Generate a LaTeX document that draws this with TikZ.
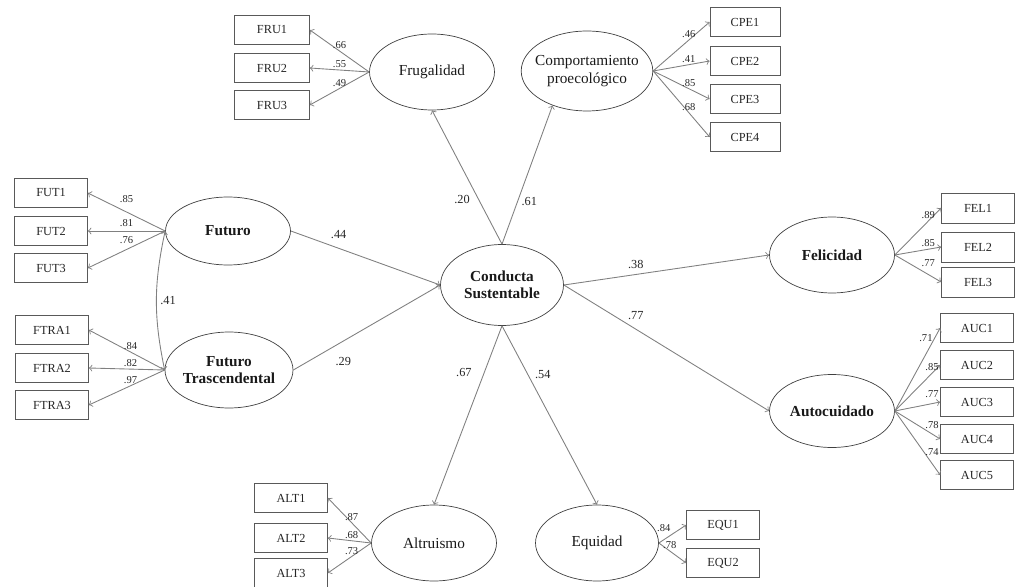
\documentclass[tikz,border=0pt]{standalone}
\usepackage{fontspec}
\setmainfont{Liberation Serif}
\usetikzlibrary{shapes.geometric, arrows}

\tikzset{
  obs/.style={draw=black!65, rectangle, minimum width=1.46cm, minimum height=0.58cm,
    inner sep=1pt, text=black!85, font=\fontsize{7}{8}\selectfont},
  lat/.style={draw=black!75, ellipse, minimum width=2.5cm, minimum height=1.52cm,
    inner sep=0pt, inner xsep=-3pt, align=center, text=black!90, font=\fontsize{8.7}{10}\selectfont},
  latb/.style={lat, font=\fontsize{8.7}{10}\selectfont\bfseries},
  ld/.style={font=\fontsize{6}{7}\selectfont, inner sep=1pt, text=black!85},
  cf/.style={font=\fontsize{7}{8}\selectfont, inner sep=1pt, text=black!85}
}

\begin{document}
\begin{tikzpicture}[x=0.02cm,y=-0.02cm,>=to,
    every edge/.style={draw=black!50, line width=0.5pt}]
  \useasboundingbox (0,0) rectangle (1016,587);

  \node[lat] (fru) at (432,72) {Frugalidad};
  \node[lat, minimum height=1.6cm] (cpe) at (587,71) {Comportamiento\\proecológico};
  \node[latb, minimum height=1.36cm] (fut) at (228,231) {Futuro};
  \node[latb, minimum width=2.56cm] (ftra) at (229,370) {Futuro\\Trascendental};
  \node[latb, minimum width=2.46cm, minimum height=1.62cm] (cs) at (502,285) {Conducta\\Sustentable};
  \node[latb] (fel) at (832,255) {Felicidad};
  \node[latb, minimum height=1.46cm] (auc) at (832,411) {Autocuidado};
  \node[lat] (alt) at (434,543) {Altruismo};
  \node[lat, minimum width=2.46cm] (equ) at (597,543) {Equidad};

  \node[obs, minimum width=1.5cm] (fru1) at (272,30) {FRU1};
  \node[obs, minimum width=1.5cm] (fru2) at (272,68) {FRU2};
  \node[obs, minimum width=1.5cm] (fru3) at (272,105) {FRU3};
  \node[obs, minimum width=1.4cm] (cpe1) at (745,22) {CPE1};
  \node[obs, minimum width=1.4cm] (cpe2) at (745,61) {CPE2};
  \node[obs, minimum width=1.4cm] (cpe3) at (745,99) {CPE3};
  \node[obs, minimum width=1.4cm] (cpe4) at (745,137) {CPE4};
  \node[obs] (fut1) at (51,193) {FUT1};
  \node[obs] (fut2) at (51,231) {FUT2};
  \node[obs] (fut3) at (51,268) {FUT3};
  \node[obs] (ftra1) at (52,330) {FTRA1};
  \node[obs] (ftra2) at (52,368) {FTRA2};
  \node[obs] (ftra3) at (52,405) {FTRA3};
  \node[obs, minimum height=0.6cm] (fel1) at (978,208) {FEL1};
  \node[obs, minimum height=0.6cm] (fel2) at (978,247) {FEL2};
  \node[obs, minimum height=0.6cm] (fel3) at (978,282) {FEL3};
  \node[obs] (auc1) at (977,328) {AUC1};
  \node[obs] (auc2) at (977,365) {AUC2};
  \node[obs] (auc3) at (977,402) {AUC3};
  \node[obs] (auc4) at (977,439) {AUC4};
  \node[obs] (auc5) at (977,475) {AUC5};
  \node[obs] (alt1) at (291,498) {ALT1};
  \node[obs] (alt2) at (291,538) {ALT2};
  \node[obs] (alt3) at (291,573) {ALT3};
  \node[obs] (equ1) at (723,525) {EQU1};
  \node[obs] (equ2) at (723,563) {EQU2};

  \path[->] (cs.north) edge node[cf, pos=.33, left=4pt] {.20} (fru.south)
    (cs.north) edge node[cf, pos=.31, right=1pt] {.61} (cpe.225)
    (fut.east) edge node[cf, pos=.32, above=4pt] {.44} (cs.west)
    (ftra.east) edge node[cf, pos=.34, below=8pt] {.29} (cs.west)
    (cs.east) edge node[cf, pos=.35, above=2pt] {.38} (fel.west)
    (cs.east) edge node[cf, pos=.35, above=4pt] {.77} (auc.west)
    (cs.south) edge node[cf, pos=.26, left=6pt] {.67} (alt.north)
    (cs.south) edge node[cf, pos=.27, right=3pt] {.54} (equ.north);

  \path[->] (fut.west) edge[<->, bend right=12] node[cf, right=1pt] {.41} (ftra.west);

  \path[->] (fru.west) edge node[ld, above] {.66} (fru1.east)
    (fru.west) edge node[ld, above] {.55} (fru2.east)
    (fru.west) edge node[ld, above] {.49} (fru3.east);
  \path[->] (cpe.east) edge node[ld, pos=.63, above] {.46} (cpe1.west)
    (cpe.east) edge node[ld, pos=.63, above] {.41} (cpe2.west)
    (cpe.east) edge node[ld, pos=.63, above] {.85} (cpe3.west)
    (cpe.east) edge node[ld, pos=.63, above] {.68} (cpe4.west);
  \path[->] (fut.west) edge node[ld, above=4pt] {.85} (fut1.east)
    (fut.west) edge node[ld, above=1pt] {.81} (fut2.east)
    (fut.west) edge node[ld, above=2pt] {.76} (fut3.east);
  \path[->] (ftra.west) edge node[ld, pos=.45, above] {.84} (ftra1.east)
    (ftra.west) edge node[ld, pos=.45, above] {.82} (ftra2.east)
    (ftra.west) edge node[ld, pos=.45, above] {.97} (ftra3.east);
  \path[->] (fel.east) edge node[ld, pos=.72, above] {.89} (fel1.west)
    (fel.east) edge node[ld, pos=.72, above] {.85} (fel2.west)
    (fel.east) edge node[ld, pos=.72, above=3pt] {.77} (fel3.west);
  \path[->] (auc.east) edge node[ld, pos=.88, left] {.71} (auc1.west)
    (auc.east) edge node[ld, pos=.82, above] {.85} (auc2.west)
    (auc.east) edge node[ld, pos=.82, above=2pt] {.77} (auc3.west)
    (auc.east) edge node[ld, pos=.82, above=2pt] {.78} (auc4.west)
    (auc.east) edge node[ld, pos=.82, above=3pt] {.74} (auc5.west);
  \path[->] (alt.west) edge node[ld, pos=.45, above] {.87} (alt1.east)
    (alt.west) edge node[ld, pos=.45, above] {.68} (alt2.east)
    (alt.west) edge node[ld, pos=.45, above] {.73} (alt3.east);
  \path[->] (equ.east) edge node[ld, above left] {.84} (equ1.west)
    (equ.east) edge node[ld, pos=.4, above] {.78} (equ2.west);
\end{tikzpicture}
\end{document}
